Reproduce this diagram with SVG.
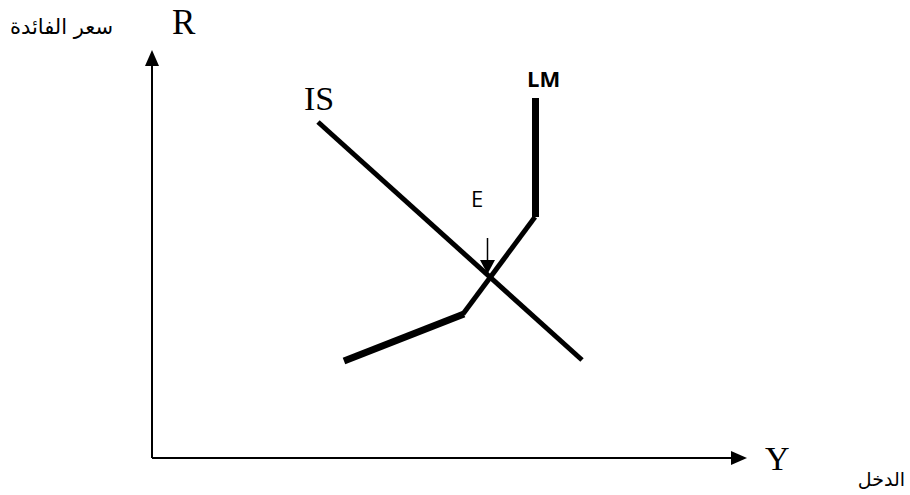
<svg xmlns="http://www.w3.org/2000/svg" width="910" height="495" viewBox="0 0 910 495">
<style>
.serif{font-family:"Liberation Serif","Times New Roman",serif;fill:#000}
.sans{font-family:"Open Sans","Noto Sans",sans-serif;fill:#000}
.ar{font-family:"DejaVu Sans","Noto Sans",sans-serif;fill:#000}
.axis{stroke:#000;stroke-width:2;fill:none}
.curve{stroke:#000;fill:none}
</style>
<rect width="910" height="495" fill="#fff"/>
<g id="axes">
<line class="axis" x1="152" y1="458" x2="152" y2="64"/>
<polygon points="152,50 145,66 159,66" fill="#000"/>
<line class="axis" x1="152" y1="458" x2="733" y2="458"/>
<polygon points="747,458 731,451 731,465" fill="#000"/>
</g>
<g id="labels">
<text class="serif" x="172" y="34" font-size="35">R</text>
<text class="ar" x="113" y="34" font-size="21" text-anchor="end">سعر الفائدة</text>
<text class="serif" x="765" y="470" font-size="34">Y</text>
<text class="ar" x="905" y="486" font-size="19" text-anchor="end">الدخل</text>
</g>
<g id="IS">
<line class="curve" x1="318" y1="122" x2="582" y2="360" stroke-width="5"/>
<text class="serif" x="304" y="110" font-size="34">IS</text>
</g>
<g id="LM">
<line class="curve" x1="535.5" y1="98" x2="535.5" y2="217" stroke-width="7"/>
<line class="curve" x1="535" y1="217" x2="463" y2="314" stroke-width="5"/>
<line class="curve" x1="464" y1="314" x2="344" y2="361" stroke-width="7"/>
<text class="sans" x="527" y="87" font-size="22" font-weight="bold">LM</text>
</g>
<g id="E">
<text class="sans" x="471" y="207" font-size="22">E</text>
<line x1="487.5" y1="238" x2="487.5" y2="262" stroke="#000" stroke-width="1.5"/>
<polygon points="487.5,274 480,260 495,260" fill="#000"/>
</g>
</svg>
